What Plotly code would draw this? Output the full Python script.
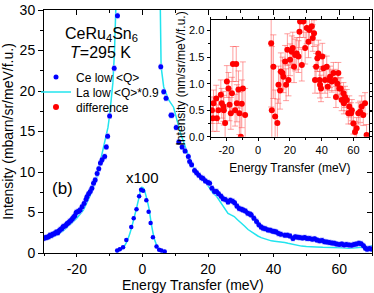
import plotly.graph_objects as go

# ---------------- data ----------------
# Ce low <Q> (main panel, quasielastic / magnetic region)
ce_x = [-30.2, -29.8, -29.4, -29.0, -28.6, -28.2, -27.8, -27.4, -27.0, -26.6, -26.2, -25.8,
        -25.4, -25.0, -24.6, -24.2, -23.8, -23.4, -23.0, -22.6, -22.2, -21.8, -21.4, -21.0,
        -20.6, -20.2, -19.8, -19.4, -19.0, -18.4, -17.8, -17.2, -16.9, -16.4, -15.9, -15.4,
        -14.9, -14.4, -13.8, -13.3, -12.8, -12.3, -11.5, -11.0, -10.6, -10.0, -8.6, -7.6,
        5.6, 6.5, 7.2, 8.7, 9.0, 10.3, 11.1, 12.1, 13.0, 14.0, 14.4, 15.0, 15.9, 16.5,
        17.2, 18.0, 18.5, 19.2, 20.0, 20.5, 21.2, 22.0, 22.6, 23.2, 24.0, 24.6, 25.3, 26.1,
        26.8, 27.5, 28.1, 28.8, 29.5, 30.2, 30.7, 31.4, 32.1, 32.8, 33.2, 34.0, 34.8, 35.5,
        36.2, 36.8, 37.5, 38.3, 39.0, 39.7, 40.3, 40.8, 41.5, 42.2, 43.4, 44.2, 45.0, 45.9,
        46.6, 47.3, 48.0, 48.8, 49.5, 50.2, 51.0, 51.8, 52.5, 53.2, 54.0, 54.8, 55.5, 56.2,
        57.0, 57.8, 58.5, 59.2, 60.0, 60.8, 61.5, 62.2, 63.0, 63.8, 64.5, 65.2, 66.0, 66.7,
        67.4, 68.0, 68.5, 69.2, 69.8]
ce_y = [1.8, 1.85, 1.9, 1.95, 2.0, 2.2, 2.15, 2.3, 2.35, 2.45, 2.6, 2.5,
        2.75, 2.9, 3.0, 3.25, 3.3, 3.4, 3.6, 3.7, 3.9, 4.0, 4.2, 4.4,
        4.6, 5.0, 5.1, 5.15, 5.3, 5.7, 6.1, 6.6, 6.95, 7.3, 7.6, 8.0,
        8.6, 9.0, 9.8, 10.4, 11.1, 11.5, 11.9, 13.1, 14.4, 16.9, 22.8, 29.3,
        23.0, 19.9, 19.1, 17.0, 17.0, 15.5, 13.7, 13.1, 12.6, 11.9, 11.3, 10.9, 10.2, 9.9,
        9.6, 9.3, 9.2, 8.9, 8.7, 8.6, 8.0, 7.6, 7.6, 7.3, 7.0, 6.7, 6.6, 6.3,
        6.5, 6.4, 6.2, 5.8, 5.5, 5.4, 5.3, 5.2, 4.9, 4.8, 4.7, 4.3, 3.9, 3.5,
        3.2, 3.05, 3.0, 2.85, 2.8, 2.7, 2.65, 2.6, 2.4, 2.3, 2.2, 2.2, 2.1, 1.8,
        2.0, 1.95, 1.9, 1.85, 1.9, 1.8, 1.8, 1.7, 1.75, 1.6, 1.5, 1.55, 1.4, 1.35,
        1.3, 1.25, 1.2, 1.1, 1.05, 1.1, 1.0, 1.05, 1.0, 0.95, 1.05, 1.1, 1.2, 1.15,
        0.9, 0.6, 0.45, 0.55, 0.5]

# Ce low <Q> elastic peak, scaled x100 (divided)
ce_el_x = [-7.7, -6.9, -5.9, -4.9, -3.4, -2.65, -1.8, -1.0, -0.4, 0.2, 1.2, 1.9,
           2.5, 3.2, 4.3, 5.1, 5.8, 6.8]
ce_el_y = [0.3, 0.45, 0.7, 1.6, 3.2, 4.3, 5.4, 7.0, 7.8, 7.7, 6.5, 5.1,
           3.7, 1.95, 0.8, 0.4, 0.3, 0.2]

# La low <Q> * 0.9 (main panel line)
la_x = [-30.0, -28.0, -26.0, -24.0, -22.2, -20.0, -18.0, -16.0, -14.0, -12.6, -11.8, -10.5,
        -10.0, -9.0, -8.5, -8.0, -7.5, None,
        5.2, 5.5, 5.7, 6.5, 8.0, 9.5, 10.5, 11.6, 13.1, 13.4, 14.5, 15.4, 17.0, 18.2,
        19.5, 20.5, 21.5, 22.6, 23.6, 24.8, 26.1, 27.0, 28.0, 29.0, 30.2, 31.2, 32.2, 33.2,
        34.2, 35.2, 36.2, 37.3, 38.3, 39.3, 40.3, 41.3, 42.4, 43.4, 44.4, 45.4, 46.4, 47.5,
        48.5, 50.0, 51.0, 53.0, 55.0, 57.0, 59.0, 61.0, 63.0, 65.0, 67.0, 68.5, 70.0]
la_y = [1.6, 1.9, 2.2, 2.8, 3.45, 4.3, 5.3, 7.0, 9.2, 11.7, 13.5, 15.5,
        17.0, 21.0, 25.0, 30.0, 38.0, None,
        38.0, 30.0, 23.0, 20.5, 18.9, 18.0, 16.5, 14.8, 13.1, 12.7, 11.6, 10.7, 9.6, 9.1,
        8.6, 8.0, 7.4, 7.0, 6.4, 5.8, 4.9, 4.7, 4.5, 4.1, 3.7, 3.3, 2.9, 2.6,
        2.4, 2.1, 1.9, 1.75, 1.6, 1.5, 1.45, 1.4, 1.4, 1.3, 1.2, 1.1, 1.0, 0.95,
        0.85, 0.8, 0.8, 0.75, 0.7, 0.7, 0.68, 0.65, 0.6, 0.62, 0.7, 0.75, 0.9]

# La elastic peak, scaled x100 (divided)
la_el_x = [-8.0, -7.0, -6.0, -5.0, -4.0, -3.0, -2.0, -1.0, -0.3, 0.0, 0.5, 1.0,
           2.0, 2.7, 3.75, 4.8, 5.7, 7.0]
la_el_y = [0.15, 0.3, 0.6, 1.2, 2.2, 3.6, 5.2, 6.9, 8.1, 8.1, 7.9, 7.2,
           5.5, 3.65, 1.6, 0.6, 0.2, 0.1]

ce_err = 0.3

# difference (inset)
diff_x = [-29.1, -28.5, -28.1, -26.4, -26.0, -25.0, -23.5, -22.9, -21.8, -21.6, -20.8, -19.7,
          -18.7, -18.0, -17.2, -16.5, -15.9, -14.5, -13.8, -13.4, -12.4, -11.8, -10.9, -10.3,
          -9.6, -8.2,
          8.2, 8.6, 9.6, 10.7, 12.1, 12.8, 13.8, 14.3, 15.3, 15.9, 17.0, 17.6, 18.4, 19.1,
          20.1, 21.2, 21.8, 22.6, 23.3, 24.3, 25.4, 26.0, 26.4, 27.5, 28.5, 29.6, 30.6, 31.7,
          32.3, 33.8, 34.4, 35.2, 35.8, 36.5, 37.3, 37.9, 38.6, 39.0, 39.6, 40.4, 41.1, 42.1,
          43.2, 43.8, 44.8, 45.3, 46.4, 47.4, 48.4, 49.0, 49.9, 50.5, 51.1, 52.0, 52.6, 53.7,
          54.0, 54.7, 55.8, 56.8, 57.4, 58.5, 59.0, 60.0, 61.0, 62.0, 63.1, 64.2, 65.2, 66.2,
          67.3, 68.3]
diff_y = [0.5, 0.35, 0.63, 0.72, 0.35, 0.5, 0.79, 0.63, 0.57, 0.5, 0.26, 1.04,
          0.91, 0.6, 0.44, 0.82, 1.37, 0.5, 1.37, 0.63, 0.89, 0.44, 0.0, 0.62,
          0.91, 0.41,
          1.76, 0.5, 1.32, 0.38, 0.26, 0.98, 0.87, 1.23, 1.2, 1.13, 1.42, 0.98, 1.64, 1.07,
          1.45, 1.6, 1.67, 1.32, 1.54, 1.57, 1.51, 1.98, 2.17, 1.35, 2.17, 1.67, 2.05, 1.79,
          2.01, 2.08, 1.86, 1.95, 1.07, 1.32, 1.48, 1.57, 1.07, 0.98, 0.91, 1.51, 1.29, 1.07,
          1.32, 0.94, 1.07, 1.13, 1.04, 1.2, 1.07, 0.75, 1.0, 1.2, 0.91, 0.91, 0.69, 0.82,
          0.63, 0.75, 0.69, 0.44, 0.57, 0.44, 0.5, 0.25, 0.09, 0.16, 0.44, 0.47, 0.57, 0.41,
          0.63, 0.03]
diff_err = [0.25, 0.25, 0.25, 0.25, 0.25, 0.25, 0.28, 0.28, 0.28, 0.28, 0.28, 0.3,
            0.3, 0.3, 0.3, 0.3, 0.33, 0.3, 0.33, 0.35, 0.35, 0.4, 0.4, 0.45,
            0.5, 0.5,
            1.2, 1.2, 0.6, 0.5, 0.45, 0.35, 0.35, 0.35, 0.3, 0.3, 0.3, 0.3, 0.3, 0.3,
            0.3, 0.3, 0.3, 0.3, 0.3, 0.3, 0.3, 0.3, 0.3, 0.3, 0.3, 0.3, 0.3, 0.3,
            0.25, 0.25, 0.25, 0.25, 0.25, 0.25, 0.25, 0.25, 0.25, 0.25, 0.25, 0.25, 0.25, 0.25,
            0.2, 0.2, 0.2, 0.2, 0.2, 0.2, 0.2, 0.2, 0.2, 0.2, 0.2, 0.2, 0.2, 0.2,
            0.2, 0.2, 0.2, 0.2, 0.2, 0.2, 0.2, 0.2, 0.2, 0.2, 0.2, 0.2, 0.2, 0.2,
            0.2, 0.2]

main_xticks = [-20, 0, 20, 40, 60]
main_xtick_labels = ["-20", "0", "20", "40", "60"]
main_yticks = [0, 5, 10, 15, 20, 25, 30]
inset_xticks = [-20, 0, 20, 40, 60]
inset_xtick_labels = ["-20", "0", "20", "40", "60"]
inset_yticks = [0.0, 0.5, 1.0, 1.5, 2.0]
inset_ytick_labels = ["0.0", "0.5", "1.0", "1.5", "2.0"]

# ---------------- styling ----------------
W, H = 374, 293
L, R, T, B = 44, 2, 10, 40
PW, PH = W - L - R, H - T - B


def px_x(px):
    return (px - L) / PW


def px_y(py):
    return (H - B - py) / PH


FONT = "Liberation Sans, Arial, sans-serif"
BLUE = "#0000ff"
CYAN = "#22e4ee"
RED = "#ff0000"

fig = go.Figure()

fig.add_trace(go.Scatter(
    x=la_x, y=la_y, mode="lines", line=dict(color=CYAN, width=1.5),
    name="La low &lt;Q&gt;*0.9", legend="legend2", connectgaps=False))
fig.add_trace(go.Scatter(
    x=la_el_x, y=la_el_y, mode="lines", line=dict(color=CYAN, width=1.5, shape="spline"),
    showlegend=False))
fig.add_trace(go.Scatter(
    x=ce_x, y=ce_y, mode="markers", marker=dict(color=BLUE, size=5),
    error_y=dict(type="constant", value=ce_err, color="#aab0ff", thickness=1, width=2),
    name="Ce low &lt;Q&gt;", legend="legend"))
fig.add_trace(go.Scatter(
    x=ce_el_x, y=ce_el_y, mode="markers", marker=dict(color=BLUE, size=4.5),
    showlegend=False))

fig.add_trace(go.Scatter(
    x=diff_x, y=diff_y, mode="markers", xaxis="x2", yaxis="y2",
    marker=dict(color=RED, size=6),
    error_y=dict(type="data", array=diff_err, color="rgba(255,80,80,0.55)", thickness=1, width=3),
    name="difference", legend="legend3"))

# dummy trace for top/right inside-tick axes
fig.add_trace(go.Scatter(x=[None], y=[None], xaxis="x3", yaxis="y3", showlegend=False,
                         hoverinfo="skip"))

axis_common = dict(showgrid=False, zeroline=False, linecolor="black", linewidth=1,
                   automargin=False,
                   tickcolor="black", tickfont=dict(family=FONT, size=14, color="black"))

fig.update_layout(
    width=W, height=H,
    margin=dict(l=L, r=R, t=T, b=B, autoexpand=False),
    paper_bgcolor="white", plot_bgcolor="white",
    font=dict(family=FONT, color="black"),
    xaxis=dict(**axis_common, range=[-30, 70], domain=[0, 1], anchor="y",
               tickmode="array", tickvals=main_xticks, ticktext=main_xtick_labels,
               ticks="outside", ticklen=3, mirror=True, showline=True,
               minor=dict(dtick=10, tick0=0, ticks="outside", ticklen=2, tickcolor="black")),
    yaxis=dict(**axis_common, range=[0, 30], domain=[0, 1], anchor="x",
               tickmode="array", tickvals=main_yticks,
               ticks="outside", ticklen=5, mirror=True, showline=True,
               minor=dict(dtick=2.5, tick0=0, ticks="outside", ticklen=3, tickcolor="black"),
               title=dict(text="Intensity (mbarn/sr/meV/f.u.)", standoff=2,
                          font=dict(family=FONT, size=14))),
    xaxis3=dict(range=[-30, 70], overlaying="x", side="top", anchor="y3", automargin=False,
                showgrid=False, zeroline=False, showline=False, showticklabels=False,
                tickmode="array", tickvals=main_xticks, ticks="inside", ticklen=5,
                tickcolor="black",
                minor=dict(dtick=10, tick0=0, ticks="inside", ticklen=3, tickcolor="black")),
    yaxis3=dict(range=[0, 30], overlaying="y", side="right", anchor="x3", automargin=False,
                showgrid=False, zeroline=False, showline=False, showticklabels=False,
                tickmode="array", tickvals=main_yticks, ticks="inside", ticklen=5,
                tickcolor="black",
                minor=dict(dtick=2.5, tick0=0, ticks="inside", ticklen=3, tickcolor="black")),
    xaxis2=dict(showgrid=False, zeroline=False, linecolor="black", linewidth=1, automargin=False,
                tickcolor="black", tickfont=dict(family=FONT, size=11, color="black"),
                range=[-30, 70], domain=[px_x(210.5), px_x(369.3)], anchor="y2",
                tickmode="array", tickvals=inset_xticks, ticktext=inset_xtick_labels,
                ticks="outside", ticklen=3, mirror="ticks", showline=True,
                minor=dict(dtick=10, tick0=0, ticks="outside", ticklen=2, tickcolor="black"),
                title=dict(text="Energy Transfer (meV)", standoff=8,
                           font=dict(family=FONT, size=12))),
    yaxis2=dict(showgrid=False, zeroline=False, linecolor="black", linewidth=1, automargin=False,
                tickcolor="black", tickfont=dict(family=FONT, size=11, color="black"),
                range=[0, 2.2], domain=[px_y(136.7), px_y(20)], anchor="x2",
                tickmode="array", tickvals=inset_yticks, ticktext=inset_ytick_labels,
                ticks="outside", ticklen=3, mirror="ticks", showline=True,
                minor=dict(dtick=0.25, tick0=0, ticks="outside", ticklen=2, tickcolor="black"),
                title=dict(text="Intensity (nm/sr/meV/f.u.)", standoff=0,
                           font=dict(family=FONT, size=12))),
    showlegend=True,
)

leg_common = dict(bgcolor="rgba(0,0,0,0)", borderwidth=0, font=dict(family=FONT, size=12),
                  xanchor="left", yanchor="middle", x=px_x(36), itemwidth=30)
fig.update_layout(
    legend=dict(**leg_common, y=px_y(77)),
    legend2=dict(**leg_common, y=px_y(92)),
    legend3=dict(**leg_common, y=px_y(107)),
)

ann_font = dict(family=FONT, color="black")
ann_common = dict(xref="paper", yref="paper", showarrow=False, xanchor="center",
                  yanchor="middle")
fig.add_annotation(text="CeRu<sub>4</sub>Sn<sub>6</sub>", x=px_x(101), y=px_y(35),
                   font=dict(**ann_font, size=16), **ann_common)
fig.add_annotation(text="<i>T</i>=295 K", x=px_x(100), y=px_y(53),
                   font=dict(**ann_font, size=16), **ann_common)
fig.add_annotation(text="(b)", x=px_x(62), y=px_y(188),
                   font=dict(**ann_font, size=17), **ann_common)
fig.add_annotation(text="x100", x=px_x(142), y=px_y(177),
                   font=dict(**ann_font, size=15), **ann_common)
fig.add_annotation(text="Energy Transfer (meV)", x=px_x(193), y=px_y(285),
                   font=dict(**ann_font, size=14), **ann_common)

fig.write_html("out.html", config={"displayModeBar": False},
               post_script="document.body.style.margin='0';document.body.style.padding='0';")
